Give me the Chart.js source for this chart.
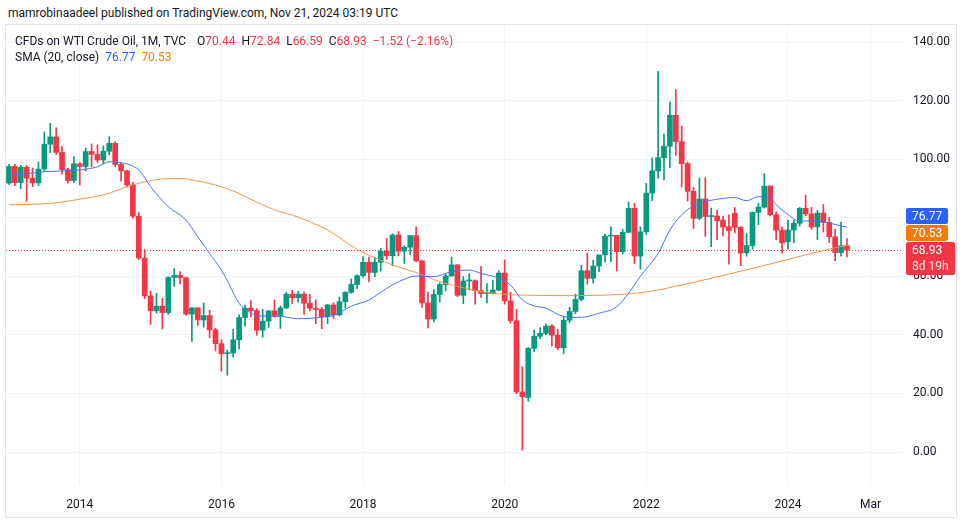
<!DOCTYPE html>
<html>
<head>
<meta charset="utf-8">
<title>CFDs on WTI Crude Oil, 1M</title>
<script src="https://cdn.jsdelivr.net/npm/chart.js@4.4.1/dist/chart.umd.min.js"></script>
<style>
  html, body { margin: 0; padding: 0; background: #fff; }
  body { width: 963px; height: 521px; position: relative; overflow: hidden;
         font-family: Roboto, "Noto Sans", sans-serif; color: #131722; }
  #published { position: absolute; left: 8px; top: 4px; font-size: 12px; line-height: 18px; white-space: nowrap; }
  #frame { position: absolute; left: 5px; top: 24px; width: 950px; height: 492px; border: 1px solid #e0e3eb; }
  #chart { position: absolute; left: 0; top: 0; }
  .legend { position: absolute; left: 9px; font-size: 12px; line-height: 16px; white-space: nowrap; }
  .legend .gap { display: inline-block; width: 11px; }
  .legend .sp { display: inline-block; width: 6px; }
  .red { color: #F23645; }
  .blue { color: #2962FF; }
  .orange { color: #F57C00; }
</style>
</head>
<body>
<div id="published">mamrobinaadeel published on TradingView.com, Nov 21, 2024 03:19 UTC</div>
<div id="frame">
  <canvas id="chart" width="950" height="492"></canvas>
  <div class="legend" style="top:8px">CFDs on WTI Crude Oil, 1M, TVC<span class="gap"></span>O<span class="red">70.44</span><span class="sp"></span>H<span class="red">72.84</span><span class="sp"></span>L<span class="red">66.59</span><span class="sp"></span>C<span class="red">68.93</span><span class="sp"></span><span class="red">−1.52 (−2.16%)</span></div>
  <div class="legend" style="top:24px">SMA (20, close)<span class="sp"></span><span class="blue">76.77</span><span class="sp"></span><span class="orange">70.53</span></div>
</div>
<script>
// monthly candles, Jan 2013 .. Nov 2024 (one row per year)
const opens = [
  91.8, 97.5, 92.0, 97.2, 93.5, 91.9, 96.6, 105.1, 107.6, 102.3, 96.4, 92.7,
  98.4, 97.5, 102.6, 101.6, 99.7, 102.7, 105.4, 98.2, 96.0, 91.2, 80.5, 66.2,
  53.3, 48.2, 49.8, 47.6, 59.6, 60.3, 59.5, 47.1, 49.2, 45.1, 46.6, 41.7,
  37.0, 33.6, 33.8, 38.3, 45.9, 49.1, 48.3, 41.6, 44.7, 48.2, 46.6, 49.2,
  53.9, 52.7, 53.9, 50.8, 49.1, 48.7, 46.2, 50.2, 46.8, 51.3, 54.5, 57.2,
  60.2, 64.8, 61.3, 64.8, 68.6, 67.0, 74.1, 68.6, 69.9, 73.9, 65.3, 50.9,
  45.4, 53.8, 57.2, 60.1, 63.9, 53.5, 58.4, 58.5, 55.1, 54.1, 54.2, 55.3,
  61.1, 51.6, 44.8, 20.5, 18.6, 35.4, 39.5, 40.5, 43.0, 39.9, 35.6, 45.0,
  48.0, 52.1, 61.9, 59.3, 63.5, 67.3, 73.7, 74.0, 68.4, 75.0, 83.2, 66.9,
  75.2, 88.4, 96.0, 100.5, 104.4, 115.0, 106.0, 98.5, 89.0, 79.8, 86.4, 80.4,
  80.6, 79.2, 76.9, 81.5, 76.7, 68.0, 70.5, 81.8, 83.6, 90.8, 81.0, 75.8,
  71.8, 75.8, 78.1, 83.2, 81.3, 76.9, 81.6, 78.4, 73.5, 68.1, 70.44
];
const highs = [
  98.2, 98.2, 97.9, 97.9, 97.0, 99.0, 109.3, 112.2, 110.7, 104.4, 96.9, 100.8,
  98.8, 103.8, 105.2, 104.9, 104.5, 107.7, 106.0, 98.6, 96.3, 92.1, 81.8, 69.2,
  55.0, 54.2, 52.5, 59.9, 62.6, 61.6, 59.7, 49.4, 49.3, 50.9, 48.4, 42.3,
  38.4, 34.8, 41.9, 46.8, 50.2, 51.7, 49.0, 48.8, 48.3, 51.9, 49.9, 54.5,
  55.2, 54.9, 54.6, 53.8, 52.0, 49.4, 50.4, 51.0, 52.9, 54.8, 59.1, 60.5,
  66.7, 66.6, 66.6, 69.6, 72.9, 74.5, 75.3, 70.5, 74.0, 76.9, 65.4, 54.6,
  55.5, 57.8, 60.7, 66.6, 64.0, 59.9, 60.9, 58.8, 63.4, 57.5, 58.7, 61.9,
  65.6, 54.6, 48.7, 29.1, 35.7, 41.6, 42.5, 43.8, 43.5, 41.9, 46.3, 49.4,
  53.9, 63.8, 67.9, 65.5, 67.0, 74.4, 76.9, 73.9, 76.0, 85.4, 84.9, 76.9,
  91.7, 100.5, 130.0, 108.6, 119.5, 123.7, 111.3, 99.0, 90.4, 93.6, 93.7, 83.3,
  82.6, 80.6, 81.0, 83.5, 77.0, 74.6, 82.0, 84.9, 95.0, 90.9, 82.0, 76.9,
  79.2, 79.1, 83.5, 87.7, 83.5, 82.5, 84.5, 80.1, 76.0, 78.5, 72.84
];
const lows = [
  91.4, 90.9, 89.9, 85.6, 90.6, 91.0, 95.8, 102.2, 101.6, 94.9, 91.8, 92.0,
  91.2, 96.0, 97.4, 98.9, 98.4, 101.5, 97.5, 92.5, 90.4, 79.8, 65.7, 52.4,
  43.6, 47.4, 42.0, 47.0, 56.5, 57.4, 46.7, 37.8, 43.2, 42.6, 39.0, 34.5,
  27.6, 26.2, 32.4, 35.2, 43.0, 46.1, 39.9, 39.2, 42.5, 46.0, 42.2, 48.9,
  50.7, 51.2, 47.1, 48.2, 43.8, 42.1, 43.8, 45.6, 46.5, 49.1, 54.2, 55.8,
  59.8, 58.1, 59.9, 61.8, 65.8, 63.6, 67.0, 64.4, 67.4, 64.9, 49.4, 42.4,
  44.4, 51.2, 55.0, 60.0, 53.0, 50.6, 55.3, 50.5, 52.8, 50.9, 54.0, 55.0,
  50.5, 44.0, 19.9, 0.6, 17.3, 34.3, 38.7, 40.1, 36.1, 34.9, 33.6, 44.2,
  47.2, 51.6, 57.3, 57.7, 61.6, 64.8, 65.0, 61.8, 67.6, 74.9, 64.4, 62.4,
  74.3, 85.8, 93.5, 92.9, 97.2, 101.3, 90.5, 85.7, 76.3, 79.3, 73.6, 70.1,
  72.5, 73.8, 64.1, 74.8, 63.6, 66.9, 69.2, 77.6, 83.3, 80.6, 72.4, 67.9,
  69.3, 71.5, 77.1, 80.7, 76.0, 72.5, 75.1, 71.5, 65.3, 66.9, 66.59
];
const closes = [
  97.5, 92.0, 97.2, 93.5, 91.9, 96.6, 105.1, 107.6, 102.3, 96.4, 92.7, 98.4,
  97.5, 102.6, 101.6, 99.7, 102.7, 105.4, 98.2, 96.0, 91.2, 80.5, 66.2, 53.3,
  48.2, 49.8, 47.6, 59.6, 60.3, 59.5, 47.1, 49.2, 45.1, 46.6, 41.7, 37.0,
  33.6, 33.8, 38.3, 45.9, 49.1, 48.3, 41.6, 44.7, 48.2, 46.6, 49.2, 53.9,
  52.7, 53.9, 50.8, 49.1, 48.7, 46.2, 50.2, 46.8, 51.3, 54.5, 57.2, 60.2,
  64.8, 61.3, 64.8, 68.6, 67.0, 74.1, 68.6, 69.9, 73.9, 65.3, 50.9, 45.4,
  53.8, 57.2, 60.1, 63.9, 53.5, 58.4, 58.5, 55.1, 54.1, 54.2, 55.3, 61.1,
  51.6, 44.8, 20.5, 18.9, 35.4, 39.5, 40.5, 43.0, 39.9, 35.6, 45.0, 48.0,
  52.1, 61.9, 59.3, 63.5, 67.3, 73.7, 74.0, 68.4, 75.0, 83.2, 66.9, 75.2,
  88.4, 96.0, 100.5, 104.4, 115.0, 106.0, 98.5, 89.0, 79.8, 86.4, 80.4, 80.7,
  79.0, 76.8, 75.6, 76.7, 67.9, 70.5, 81.8, 83.6, 90.8, 81.0, 75.7, 71.4,
  75.8, 78.1, 83.2, 81.3, 76.8, 81.6, 78.4, 73.5, 68.1, 70.45, 68.93
];

// SMA lines: month index -> value
const smaFastAt = [0, 6, 12, 15, 17, 19, 22, 24, 27, 30, 32, 34, 36, 37, 39, 41, 42, 46, 49, 53, 55, 58, 61, 64, 67, 69, 72, 75, 78, 80, 83, 85, 87, 89, 91, 93, 95, 97, 100, 103, 105, 107, 110, 112, 114, 116, 118, 120, 123, 125, 127, 129, 130, 132, 134, 136, 138, 140, 142];
const smaFast   = [94.3, 95.7, 96.3, 97.4, 99.1, 98.8, 96.3, 90.6, 83.8, 79.2, 73.5, 67.8, 62.1, 58.5, 50.8, 47.5, 46.5, 46.3, 45.5, 46.0, 46.6, 49.8, 51.9, 55.9, 59.0, 60.1, 59.9, 61.6, 62.1, 61.0, 59.3, 57.0, 51.9, 49.9, 49.1, 47.0, 46.0, 46.0, 47.4, 49.6, 54.2, 60.0, 67.8, 75.8, 81.0, 84.0, 85.5, 86.3, 86.9, 85.8, 87.2, 86.8, 84.5, 81.1, 78.8, 79.0, 78.6, 77.7, 76.77];
const smaSlowAt = [0, 7, 12, 16, 21, 25, 29, 32, 36, 39, 42, 46, 48, 54, 59, 65, 70, 72, 78, 83, 89, 93, 105, 110, 113, 116, 128, 139, 142];
const smaSlow   = [84.4, 84.9, 86.3, 87.8, 91.2, 93.0, 93.4, 92.5, 90.6, 88.3, 85.3, 82.0, 80.9, 75.8, 69.2, 63.9, 60.6, 58.9, 55.6, 54.0, 53.5, 53.4, 54.0, 55.3, 56.6, 57.9, 63.7, 69.3, 70.53];

const lastPrice = 68.93;
const lastSmaFast = 76.77;
const lastSmaSlow = 70.53;
const countdown = '8d 19h';

const priceTicks = [0, 20, 40, 60, 80, 100, 120, 140];
const timeTickMonths = ['2014-01', '2016-01', '2018-01', '2020-01', '2022-01', '2024-01', '2025-03'];
const timeTickText = ['2014', '2016', '2018', '2020', '2022', '2024', 'Mar'];

// Jan 2013 .. Aug 2025 (empty months on the right)
const months = [];
for (let y = 2013; months.length < 152; y++) {
  for (let m = 1; m <= 12 && months.length < 152; m++) months.push(y + '-' + String(m).padStart(2, '0'));
}

const UP = '#089981';
const DOWN = '#F23645';
const candleColors = closes.map((c, i) => (c >= opens[i] ? UP : DOWN));

function sparse(at, vals) {
  const d = months.map(() => null);
  at.forEach((idx, k) => { d[idx] = vals[k]; });
  return d;
}

// plot area is 460px tall, 140 sits 17px below its top and 0 sits 33px above its bottom
const pxPerUnit = 410 / 140;
const yMax = 140 + 17 / pxPerUnit;
const yMin = -33 / pxPerUnit;

const priceMarks = {
  id: 'priceMarks',
  beforeDatasetsDraw(chart) {
    const { ctx, chartArea, scales } = chart;
    const y = Math.round(scales.y.getPixelForValue(lastPrice)) + 0.5;
    ctx.save();
    ctx.strokeStyle = DOWN;
    ctx.lineWidth = 1;
    ctx.setLineDash([1, 2]);
    ctx.beginPath();
    ctx.moveTo(chartArea.left, y);
    ctx.lineTo(chartArea.right, y);
    ctx.stroke();
    ctx.restore();
  },
  afterDraw(chart) {
    const { ctx, chartArea, scales } = chart;
    const yLast = scales.y.getPixelForValue(lastPrice);
    const x = chartArea.right + 3;
    const redTop = Math.round(yLast) - 8;
    const boxes = [
      { top: redTop - 34, h: 16, w: 42, color: '#2962FF', lines: [lastSmaFast.toFixed(2)] },
      { top: redTop - 17, h: 16, w: 42, color: '#F57C00', lines: [lastSmaSlow.toFixed(2)] },
      { top: redTop, h: 33, w: 49, color: DOWN, lines: [lastPrice.toFixed(2), countdown] }
    ];
    ctx.save();
    ctx.font = '12px Roboto, "Noto Sans", sans-serif';
    ctx.textBaseline = 'middle';
    ctx.textAlign = 'left';
    boxes.forEach(b => {
      ctx.fillStyle = b.color;
      ctx.beginPath();
      ctx.roundRect(x, b.top, b.w, b.h, 2);
      ctx.fill();
      b.lines.forEach((t, k) => {
        ctx.fillStyle = k === 0 ? '#ffffff' : 'rgba(255,255,255,0.85)';
        ctx.fillText(t, x + 6, b.top + 8.5 + k * 16);
      });
    });
    ctx.restore();
  }
};

const ctx = document.getElementById('chart').getContext('2d');
const chart = new Chart(ctx, {
  data: {
    labels: months,
    datasets: [
      {
        type: 'line', label: 'SMA 20', data: sparse(smaFastAt, smaFast),
        borderColor: '#4a74ec', borderWidth: 1, pointRadius: 0, spanGaps: true,
        cubicInterpolationMode: 'monotone', order: 0
      },
      {
        type: 'line', label: 'SMA smoothing', data: sparse(smaSlowAt, smaSlow),
        borderColor: '#f3954a', borderWidth: 1, pointRadius: 0, spanGaps: true,
        cubicInterpolationMode: 'monotone', order: 0
      },
      {
        type: 'bar', label: 'bodies', data: opens.map((o, i) => [o, closes[i]]),
        backgroundColor: candleColors, barThickness: 5, minBarLength: 1,
        grouped: false, order: 1
      },
      {
        type: 'bar', label: 'wicks', data: lows.map((l, i) => [l, highs[i]]),
        backgroundColor: candleColors, barThickness: 1,
        grouped: false, order: 2
      }
    ]
  },
  options: {
    responsive: false,
    animation: false,
    devicePixelRatio: 1,
    layout: { padding: 0 },
    plugins: { legend: { display: false }, tooltip: { enabled: false } },
    scales: {
      x: {
        type: 'category',
        offset: true,
        border: { display: false },
        grid: {
          offset: false,
          drawTicks: false,
          color: c => (c.tick && c.tick.label ? '#f0f3fa' : 'rgba(0,0,0,0)')
        },
        ticks: {
          autoSkip: false,
          maxRotation: 0,
          padding: 13,
          color: '#131722',
          font: { family: 'Roboto', size: 12 },
          callback(val) {
            const k = timeTickMonths.indexOf(this.getLabelForValue(val));
            return k >= 0 ? timeTickText[k] : '';
          }
        },
        afterFit(s) { s.height = 32; s.paddingLeft = 0; s.paddingRight = 0; }
      },
      y: {
        position: 'right',
        min: yMin,
        max: yMax,
        border: { display: false },
        grid: { color: '#f0f3fa', drawTicks: false },
        afterBuildTicks(s) { s.ticks = priceTicks.map(v => ({ value: v })); },
        ticks: {
          padding: 10,
          color: '#131722',
          font: { family: 'Roboto', size: 12 },
          callback: v => v.toFixed(2)
        },
        afterFit(s) { s.width = 53; s.paddingTop = 0; s.paddingBottom = 0; }
      }
    }
  },
  plugins: [priceMarks]
});
</script>
</body>
</html>
